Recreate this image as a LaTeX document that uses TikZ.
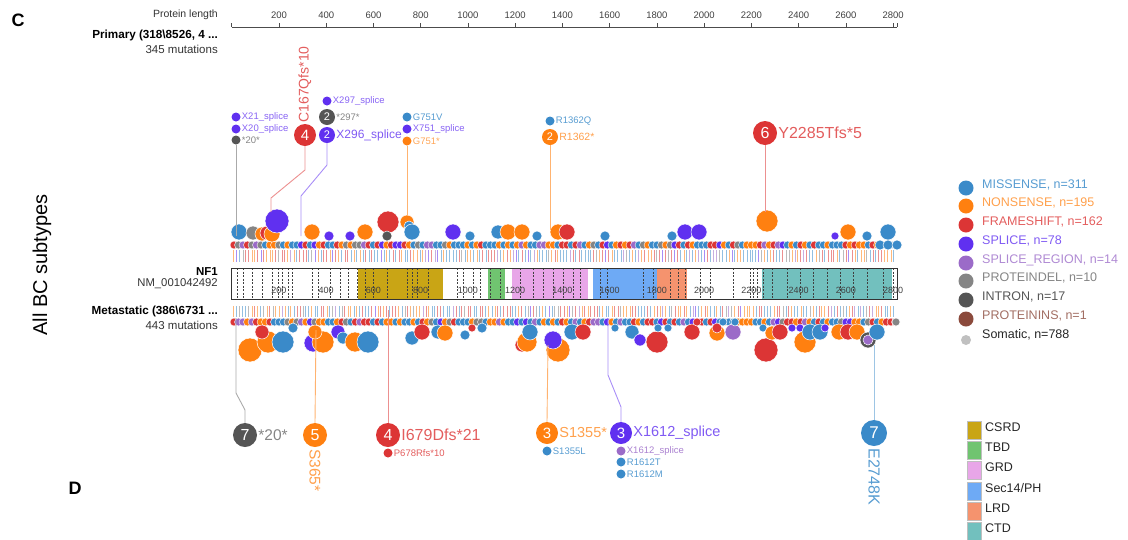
\documentclass[tikz,border=0pt]{standalone}
\usepackage{fontspec}
\setmainfont{Liberation Sans}
\definecolor{cMis}{HTML}{3A8AC9}
\definecolor{cNon}{HTML}{FF8010}
\definecolor{cFs}{HTML}{DC3535}
\definecolor{cSpl}{HTML}{6030F0}
\definecolor{cSpr}{HTML}{9B6BC8}
\definecolor{cDel}{HTML}{858585}
\definecolor{cInt}{HTML}{555555}
\definecolor{cIns}{HTML}{8B4A3C}
\definecolor{cSom}{HTML}{C0C0C0}
\definecolor{dCSRD}{HTML}{C9A515}
\definecolor{dTBD}{HTML}{70C470}
\definecolor{dGRD}{HTML}{E8A6E8}
\definecolor{dSec}{HTML}{6EAAF5}
\definecolor{dLRD}{HTML}{F5936E}
\definecolor{dCTD}{HTML}{72C0BE}
\newcommand\fs[1]{\fontsize{#1}{#1}\selectfont}
\begin{document}
\begin{tikzpicture}[x=1pt,y=-1pt,
  bub/.style={circle,inner sep=0pt,text=white},
  sdot/.style={circle,inner sep=0pt,minimum size=9pt},
  slab/.style={anchor=west,inner sep=1pt,font=\fs{9.5}},
  blab/.style={anchor=west,inner sep=1pt,font=\fs{15}},
  lline/.style={line width=0.9pt},
  leglab/.style={anchor=west,inner sep=0pt,font=\fs{12.5}},
  domlab/.style={anchor=west,inner sep=0pt,font=\fs{12.5},text=black!85},
  side/.style={anchor=east,inner sep=0pt,text=black!80},
  tick/.style={font=\fs{9.5},text=black!75,inner sep=0pt}]
\useasboundingbox (0,0) rectangle (1128,539);
% panel letters and side labels
\node[font=\bfseries\fs{18},inner sep=0pt] (C) at (18,20) {C};
\node[font=\bfseries\fs{18},inner sep=0pt] (D) at (75,488) {D};
\node[rotate=90,font=\fs{20},inner sep=0pt] (all) at (42,265) {All BC subtypes};
\node[side,font=\fs{10.5}] (pl) at (218,15) {Protein length};
\node[side,font=\bfseries\fs{11.7},text=black] (prim) at (218,35) {Primary (318\textbackslash 8526, 4 ...};
\node[side,font=\fs{11.5}] (pm) at (218,49) {345 mutations};
\node[side,font=\bfseries\fs{11.5},text=black] (nf1) at (218,272) {NF1};
\node[side,font=\fs{11.3}] (nm) at (218,284) {NM\_001042492};
\node[side,font=\bfseries\fs{11.7},text=black] (met) at (218,311) {Metastatic (386\textbackslash 6731 ...};
\node[side,font=\fs{11.5}] (mm) at (218,325) {443 mutations};
% axis
\draw[black!70,line width=0.7pt] (231.7,27) -- (897,27);
\draw[black!70,line width=0.7pt] (231.7,23) -- (231.7,27) (897,23) -- (897,27);
\foreach \p in {200,400,...,2800}{
  \pgfmathsetmacro\xx{231.7+\p*0.23625}
  \draw[black!70,line width=0.7pt] (\xx,23) -- (\xx,27);
  \node[tick] at (\xx,15) {\p};
}
% domain bar
\fill[dCSRD] ({231.7+534*0.23625},268) rectangle ({231.7+895*0.23625},299);
\fill[dTBD] ({231.7+1085*0.23625},268) rectangle ({231.7+1157*0.23625},299);
\fill[dGRD] ({231.7+1187*0.23625},268) rectangle ({231.7+1508*0.23625},299);
\fill[dSec] ({231.7+1530*0.23625},268) rectangle ({231.7+1800*0.23625},299);
\fill[dLRD] ({231.7+1800*0.23625},268) rectangle ({231.7+1927*0.23625},299);
\fill[dCTD] ({231.7+2244*0.23625},268) rectangle ({231.7+2794*0.23625},299);
\foreach \xx in {237,243,252,262,272,278,282,288,292,312,318,330,340,348,357,365,373,387,407,412,417,428,457,463,473,480,490,500,520,533,543,553,563,573,580,600,607,643,653,670,678,685,700,710,733,750,753,757,763,772,787,800,813,827,840,853,867,883,893}
  \draw[black!75,dashed,dash pattern=on 2pt off 1.5pt,line width=0.5pt] (\xx,268) -- (\xx,299);
\draw[black!80,line width=0.7pt] (231.7,268) rectangle (897,299);
\foreach \p in {200,400,...,2800}{
  \pgfmathsetmacro\xx{231.7+\p*0.23625}
  \node[tick,font=\fs{9}] at (\xx,290) {\p};
}
% lollipop rows
\pgfmathsetseed{12}
\pgfmathdeclarerandomlist{mc}{{cMis}{cMis}{cMis}{cMis}{cNon}{cNon}{cNon}{cFs}{cFs}{cFs}{cSpl}{cSpr}{cDel}}
\foreach \i in {0,...,220}{
  \pgfmathsetmacro\xx{233+\i*3+rnd*1.5}
  \pgfmathrandomitem{\mcol}{mc}
  \draw[color=\mcol!55,line width=0.9pt] (\xx,250) -- (\xx,262);
}
\foreach \i in {0,...,147}{
  \pgfmathsetmacro\xx{234+\i*4.5}
  \pgfmathrandomitem{\mcol}{mc}
  \filldraw[fill=\mcol,draw=white,line width=0.4pt] (\xx,245) circle (4);
}
\foreach \i in {0,...,220}{
  \pgfmathsetmacro\xx{233+\i*3+rnd*1.5}
  \pgfmathrandomitem{\mcol}{mc}
  \draw[color=\mcol!55,line width=0.9pt] (\xx,306) -- (\xx,317);
}
\foreach \i in {0,...,147}{
  \pgfmathsetmacro\xx{234+\i*4.5}
  \pgfmathrandomitem{\mcol}{mc}
  \filldraw[fill=\mcol,draw=white,line width=0.4pt] (\xx,322) circle (4);
}
% top larger heads
\foreach \x/\y/\r/\col in {239/232/8/cMis,253/233/7/cDel,262/234/7/cNon,267/233/7/cFs,272/234/8/cNon,277/221/12/cSpl,312/232/8/cNon,329/236/5/cSpl,350/236/5/cSpl,365/232/8/cNon,388/222/11/cFs,387/236/5/cInt,407/222/7/cNon,409/226/5/cMis,412/232/8/cMis,453/232/8/cSpl,470/236/5/cMis,498/232/7/cMis,508/232/8/cNon,522/232/8/cNon,537/236/5/cMis,558/232/8/cNon,567/232/8/cFs,605/236/5/cMis,672/236/5/cMis,685/232/8/cSpl,699/232/8/cSpl,767/221/11/cNon,835/236/4/cSpl,848/232/8/cNon,867/236/5/cMis,888/232/8/cMis,880/245/5/cMis,888/245/5/cMis,897/245/5/cMis}
  \filldraw[fill=\col,draw=white,line width=0.5pt] (\x,\y) circle (\r);
% bottom larger heads
\foreach \x/\y/\r/\col in {250/350/12/cNon,268/342/11/cNon,283/342/11/cMis,262/332/7/cFs,293/328/5/cMis,313/343/9/cSpl,323/342/11/cNon,315/332/7/cNon,338/332/7/cSpl,343/338/6/cMis,355/342/10/cNon,368/342/11/cMis,412/338/7/cMis,422/332/8/cFs,438/332/7/cMis,445/333/8/cNon,465/335/5/cMis,472/328/4/cFs,482/328/5/cMis,522/345/7/cFs,527/342/10/cNon,530/332/8/cMis,558/350/12/cNon,553/340/9/cSpl,572/332/8/cMis,583/332/8/cFs,615/328/4/cMis,632/332/7/cMis,640/340/6/cSpl,657/342/11/cFs,658/328/4/cMis,668/328/4/cMis,692/332/8/cFs,697/322/4/cFs,717/333/8/cNon,717/328/5/cFs,733/332/8/cSpr,723/322/4/cMis,735/322/4/cMis,766/350/12/cFs,763/328/4/cMis,772/333/7/cNon,780/332/8/cFs,792/328/4/cSpl,800/328/4/cSpl,805/342/11/cNon,810/332/8/cMis,820/332/8/cMis,825/328/4/cSpl,839/332/8/cNon,848/332/8/cFs,857/332/8/cNon,868/340/8/cInt,868/340/5/cSpr,877/332/8/cMis,896/322/4/cDel}
  \filldraw[fill=\col,draw=white,line width=0.5pt] (\x,\y) circle (\r);
% ---------- top labelled groups ----------
% *20*
\node[sdot,fill=cSpl] (t20a) at (236,117) {};
\node[slab,text=cSpl!75] at (t20a.east) {X21\_splice};
\node[sdot,fill=cSpl] (t20b) at (236,129) {};
\node[slab,text=cSpl!75] at (t20b.east) {X20\_splice};
\node[sdot,fill=cInt] (t20c) at (236,140) {};
\node[slab,text=cDel] at (t20c.east) {*20*};
\coordinate (h20) at (236,236);
\draw[lline,cDel!70] (t20c.south) -- (h20);
% C167Qfs*10
\node[bub,fill=cFs,minimum size=22pt,font=\fs{15}] (t167) at (305,135) {4};
\node[rotate=90,anchor=west,inner sep=1pt,font=\fs{14},text=cFs!80] at (t167.north) {C167Qfs*10};
\coordinate (k167a) at (305,170);
\coordinate (k167b) at (271,198);
\coordinate (h167) at (271,212);
\draw[lline,cFs!55] (t167.south) -- (k167a) -- (k167b) -- (h167);
% 296/297
\node[sdot,fill=cSpl] (t297a) at (327,101) {};
\node[slab,text=cSpl!75] at (t297a.east) {X297\_splice};
\node[bub,fill=cInt,minimum size=16pt,font=\fs{11}] (t297) at (327,117) {2};
\node[slab,text=cDel] at (t297.east) {*297*};
\node[bub,fill=cSpl,minimum size=16pt,font=\fs{11}] (t296) at (327,135) {2};
\node[slab,font=\fs{12},text=cSpl!80] at (t296.east) {X296\_splice};
\coordinate (k296a) at (327,165);
\coordinate (k296b) at (301,196);
\coordinate (h296) at (301,236);
\draw[lline,cSpl!55] (t296.south) -- (k296a) -- (k296b) -- (h296);
% G751
\node[sdot,fill=cMis] (t751a) at (407,117) {};
\node[slab,text=cMis!85] at (t751a.east) {G751V};
\node[sdot,fill=cSpl] (t751b) at (407,129) {};
\node[slab,text=cSpl!75] at (t751b.east) {X751\_splice};
\node[sdot,fill=cNon] (t751c) at (407,141) {};
\node[slab,text=cNon!70] at (t751c.east) {G751*};
\coordinate (h751) at (407,216);
\draw[lline,cNon!60] (t751c.south) -- (h751);
% R1362
\node[sdot,fill=cMis] (t1362a) at (550,121) {};
\node[slab,text=cMis!85] at (t1362a.east) {R1362Q};
\node[bub,fill=cNon,minimum size=16pt,font=\fs{11}] (t1362) at (550,137) {2};
\node[slab,font=\fs{10.5},text=cNon!75] at (t1362.east) {R1362*};
\coordinate (h1362) at (550,230);
\draw[lline,cNon!60] (t1362.south) -- (h1362);
% Y2285
\node[bub,fill=cFs,minimum size=24pt,font=\fs{16}] (t2285) at (765,133) {6};
\node[blab,font=\fs{16},text=cFs!80] at (t2285.east) {Y2285Tfs*5};
\coordinate (h2285) at (765,212);
\draw[lline,cFs!55] (t2285.south) -- (h2285);
% ---------- bottom labelled groups ----------
\node[bub,fill=cInt,minimum size=24pt,font=\fs{16}] (b20) at (245,435) {7};
\node[blab,font=\fs{15.5},text=cDel] at (b20.east) {*20*};
\coordinate (hb20) at (236,318);
\coordinate (kb20a) at (236,393);
\coordinate (kb20b) at (245,410);
\draw[lline,cDel!70] (hb20) -- (kb20a) -- (kb20b) -- (b20.north);
\node[bub,fill=cNon,minimum size=24pt,font=\fs{16}] (b365) at (315,435) {5};
\node[rotate=-90,anchor=west,inner sep=2pt,font=\fs{15.5},text=cNon!75] at (b365.south) {S365*};
\coordinate (hb365) at (316,330);
\draw[lline,cNon!60] (hb365) -- (b365.north);
\node[bub,fill=cFs,minimum size=24pt,font=\fs{16}] (b679) at (388,435) {4};
\node[blab,font=\fs{16},text=cFs!80] at (b679.east) {I679Dfs*21};
\node[sdot,fill=cFs] (b678) at (388,453) {};
\node[slab,text=cFs!80] at (b678.east) {P678Rfs*10};
\coordinate (hb679) at (388,310);
\draw[lline,cFs!55] (hb679) -- (b679.north);
\node[bub,fill=cNon,minimum size=22pt,font=\fs{15}] (b1355) at (547,433) {3};
\node[blab,font=\fs{14.5},text=cNon!75] at (b1355.east) {S1355*};
\node[sdot,fill=cMis] (b1355l) at (547,451) {};
\node[slab,text=cMis!85] at (b1355l.east) {S1355L};
\coordinate (hb1355) at (548,345);
\draw[lline,cNon!60] (hb1355) -- (b1355.north);
\node[bub,fill=cSpl,minimum size=22pt,font=\fs{15}] (b1612) at (621,433) {3};
\node[blab,font=\fs{14.5},text=cSpl!80] at (b1612.east) {X1612\_splice};
\node[sdot,fill=cSpr] (b1612a) at (621,451) {};
\node[slab,text=cSpr!85] at (b1612a.east) {X1612\_splice};
\node[sdot,fill=cMis] (b1612b) at (621,462) {};
\node[slab,text=cMis!85] at (b1612b.east) {R1612T};
\node[sdot,fill=cMis] (b1612c) at (621,474) {};
\node[slab,text=cMis!85] at (b1612c.east) {R1612M};
\coordinate (hb1612) at (608,318);
\coordinate (kb1612a) at (608,375);
\coordinate (kb1612b) at (621,407);
\draw[lline,cSpl!55] (hb1612) -- (kb1612a) -- (kb1612b) -- (b1612.north);
\node[bub,fill=cMis,minimum size=26pt,font=\fs{17}] (b2748) at (874,433) {7};
\node[rotate=-90,anchor=west,inner sep=2pt,font=\fs{16},text=cMis!85] at (b2748.south) {E2748K};
\coordinate (hb2748) at (874,345);
\draw[lline,cMis!50] (hb2748) -- (b2748.north);
% ---------- legend ----------
\foreach \y/\col/\tcol/\txt [count=\k] in {185/cMis/cMis!85/{MISSENSE, n=311},203/cNon/cNon!75/{NONSENSE, n=195},222/cFs/cFs!80/{FRAMESHIFT, n=162},241/cSpl/cSpl!80/{SPLICE, n=78},260/cSpr/cSpr!80/{SPLICE\_REGION, n=14},278/cDel/cDel/{PROTEINDEL, n=10},297/cInt/cInt/{INTRON, n=17},316/cIns/cIns!80/{PROTEININS, n=1}}{
  \node[circle,inner sep=0pt,minimum size=15pt,fill=\col] (lg\k) at (966,\y+3) {};
  \node[leglab,text=\tcol] at (982,\y) {\txt};
}
\node[circle,inner sep=0pt,minimum size=10pt,fill=cSom] (lgs) at (966,340) {};
\node[leglab,text=black!85] at (982,335) {Somatic, n=788};
\foreach \y/\col/\txt [count=\k] in {427/dCSRD/CSRD,447/dTBD/TBD,467/dGRD/GRD,488/dSec/Sec14\slash PH,508/dLRD/LRD,528/dCTD/CTD}{
  \node[rectangle,inner sep=0pt,minimum width=14pt,minimum height=18pt,fill=\col,draw=black!25,line width=0.3pt] (dl\k) at (974,\y+3) {};
  \node[domlab] at (985,\y) {\txt};
}
\end{tikzpicture}
\end{document}
